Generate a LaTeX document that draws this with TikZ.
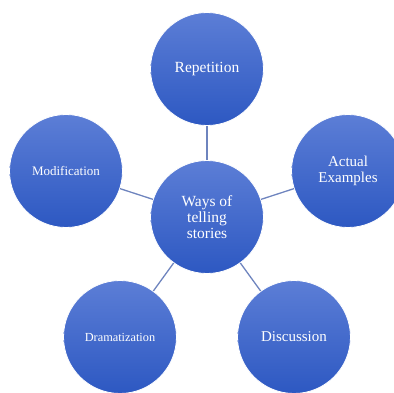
\documentclass[tikz,border=0pt]{standalone}
\usepackage{fontspec}
\setmainfont{Liberation Serif}
\definecolor{topblue}{RGB}{92,126,214}
\definecolor{botblue}{RGB}{45,88,194}
\definecolor{linkblue}{RGB}{110,132,190}
\begin{document}
\begin{tikzpicture}[x=1pt,y=1pt,
  bubble/.style={circle, minimum size=113pt, inner sep=0pt, draw=white, line width=0.8pt,
    top color=topblue, bottom color=botblue, text=white, align=center},
  link/.style={draw=linkblue, line width=1.3pt}]
\useasboundingbox (0,0) rectangle (394,392);
\begin{scope}
\clip (0,0) rectangle (394,392);
\node[bubble, font=\fontsize{15.5}{16}\selectfont] (c) at (207,175) {Ways of\\telling\\stories};
\node[bubble, font=\fontsize{15.5}{16}\selectfont] (rep) at (207,323) {Repetition};
\node[bubble, font=\fontsize{13}{14}\selectfont] (mod) at (66,221) {Modification};
\node[bubble, font=\fontsize{15}{16}\selectfont] (act) at (348,221) {Actual\\Examples};
\node[bubble, font=\fontsize{12.3}{14}\selectfont] (dra) at (120,55) {Dramatization};
\node[bubble, font=\fontsize{15}{16}\selectfont] (dis) at (294,55) {Discussion};
\draw[link] (c) -- (rep);
\draw[link] (c) -- (mod);
\draw[link] (c) -- (act);
\draw[link] (c) -- (dra);
\draw[link] (c) -- (dis);
\end{scope}
\end{tikzpicture}
\end{document}
